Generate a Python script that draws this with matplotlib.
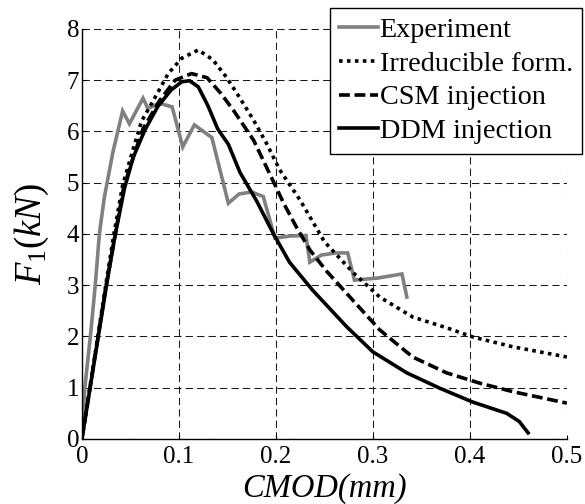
import matplotlib
matplotlib.use("Agg")
import matplotlib.pyplot as plt

plt.rcParams["font.family"] = ["Liberation Serif", "DejaVu Serif"]
plt.rcParams["mathtext.fontset"] = "custom"
plt.rcParams["mathtext.it"] = "Liberation Serif:italic"
plt.rcParams["mathtext.rm"] = "Liberation Serif"

# Crack mouth opening displacement (mm) and load F1 (kN)
exp_cmod = [0.0, 0.003, 0.009, 0.014, 0.018, 0.023, 0.032, 0.042, 0.049, 0.063,
            0.068, 0.080, 0.093, 0.104, 0.116, 0.134, 0.151, 0.162, 0.175, 0.187,
            0.199, 0.215, 0.231, 0.235, 0.247, 0.262, 0.274, 0.281, 0.305, 0.330,
            0.335]
exp_load = [0.0, 1.0, 2.05, 3.05, 4.0, 4.7, 5.6, 6.4, 6.15, 6.65,
            6.45, 6.55, 6.48, 5.7, 6.13, 5.88, 4.6, 4.78, 4.82, 4.73,
            3.92, 3.96, 3.97, 3.45, 3.59, 3.63, 3.63, 3.1, 3.14, 3.22,
            2.77]

irr_cmod = [0.0, 0.025, 0.033, 0.042, 0.052, 0.0615, 0.075, 0.089, 0.103, 0.120,
            0.135, 0.149, 0.163, 0.177, 0.190, 0.204, 0.225, 0.250, 0.280, 0.307,
            0.341, 0.376, 0.403, 0.444, 0.500]
irr_load = [0.0, 3.05, 4.0, 4.95, 5.6, 6.2, 6.65, 7.13, 7.43, 7.59,
            7.4, 7.06, 6.65, 6.22, 5.78, 5.25, 4.66, 3.85, 3.24, 2.77,
            2.38, 2.17, 1.99, 1.8, 1.6]

csm_cmod = [0.0, 0.025, 0.034, 0.043, 0.053, 0.063, 0.080, 0.096, 0.113, 0.129,
            0.143, 0.156, 0.177, 0.198, 0.208, 0.221, 0.235, 0.252, 0.273, 0.307,
            0.341, 0.376, 0.410, 0.445, 0.500]
csm_load = [0.0, 3.0, 3.95, 4.9, 5.5, 6.05, 6.6, 7.0, 7.13, 7.05,
            6.75, 6.42, 5.83, 5.0, 4.6, 4.14, 3.69, 3.28, 2.84, 2.13,
            1.6, 1.29, 1.09, 0.92, 0.7]

ddm_cmod = [0.0, 0.0254, 0.034, 0.044, 0.053, 0.065, 0.078, 0.092, 0.103, 0.111,
            0.120, 0.130, 0.140, 0.151, 0.163, 0.180, 0.197, 0.214, 0.238, 0.273,
            0.300, 0.335, 0.369, 0.403, 0.438, 0.451, 0.460]
ddm_load = [0.0, 3.0, 3.95, 4.9, 5.5, 6.03, 6.48, 6.81, 6.97, 6.99,
            6.87, 6.5, 6.05, 5.75, 5.2, 4.65, 4.02, 3.45, 2.9, 2.19,
            1.7, 1.29, 0.99, 0.72, 0.5, 0.34, 0.12]

x_ticks = [0, 0.1, 0.2, 0.3, 0.4, 0.5]
x_tick_labels = ["0", "0.1", "0.2", "0.3", "0.4", "0.5"]
y_ticks = [0, 1, 2, 3, 4, 5, 6, 7, 8]

fig = plt.figure(figsize=(5.85, 5.04), dpi=100)
ax = fig.add_axes([0.140, 0.129, 0.829, 0.8135])

lw = 2.6
ax.plot(exp_cmod, exp_load, color="#808080", lw=lw, label="Experiment",
        solid_joinstyle="miter")
ax.plot(irr_cmod, irr_load, color="black", lw=lw, linestyle=(0, (1.0, 1.2)),
        label="Irreducible form.")
ax.plot(csm_cmod, csm_load, color="black", lw=lw, linestyle=(0, (3.0, 1.3)),
        label="CSM injection")
ax.plot(ddm_cmod, ddm_load, color="black", lw=lw, label="DDM injection")

ax.set_xlim(0, 0.5)
ax.set_ylim(0, 8)
ax.set_xticks(x_ticks)
ax.set_xticklabels(x_tick_labels)
ax.set_yticks(y_ticks)
ax.tick_params(labelsize=18, direction="in", length=3, width=0.8,
               top=False, right=False)
ax.tick_params(axis="x", pad=5)
ax.tick_params(axis="y", pad=2)

ax.grid(True, color="0.1", linestyle=(0, (7, 4)), linewidth=0.75)
ax.set_axisbelow(True)
for side in ("top", "right"):
    ax.spines[side].set_visible(False)
for side in ("left", "bottom"):
    ax.spines[side].set_linewidth(1.0)

ax.set_xlabel("CMOD(mm)", fontsize=23.5, fontstyle="italic", labelpad=4)
ax.set_ylabel(r"$F_{\mathit{1}}(kN)$", fontsize=26.5, labelpad=11)

leg = ax.legend(loc="upper right", bbox_to_anchor=(0.995, 0.985),
                bbox_transform=fig.transFigure, fontsize=20.3,
                frameon=True, fancybox=False, framealpha=1,
                edgecolor="black", borderaxespad=0, borderpad=0.33,
                handlelength=1.37, handletextpad=0.05, labelspacing=0.29)
leg.get_frame().set_linewidth(1.0)

fig.savefig("out.png", dpi=100)
